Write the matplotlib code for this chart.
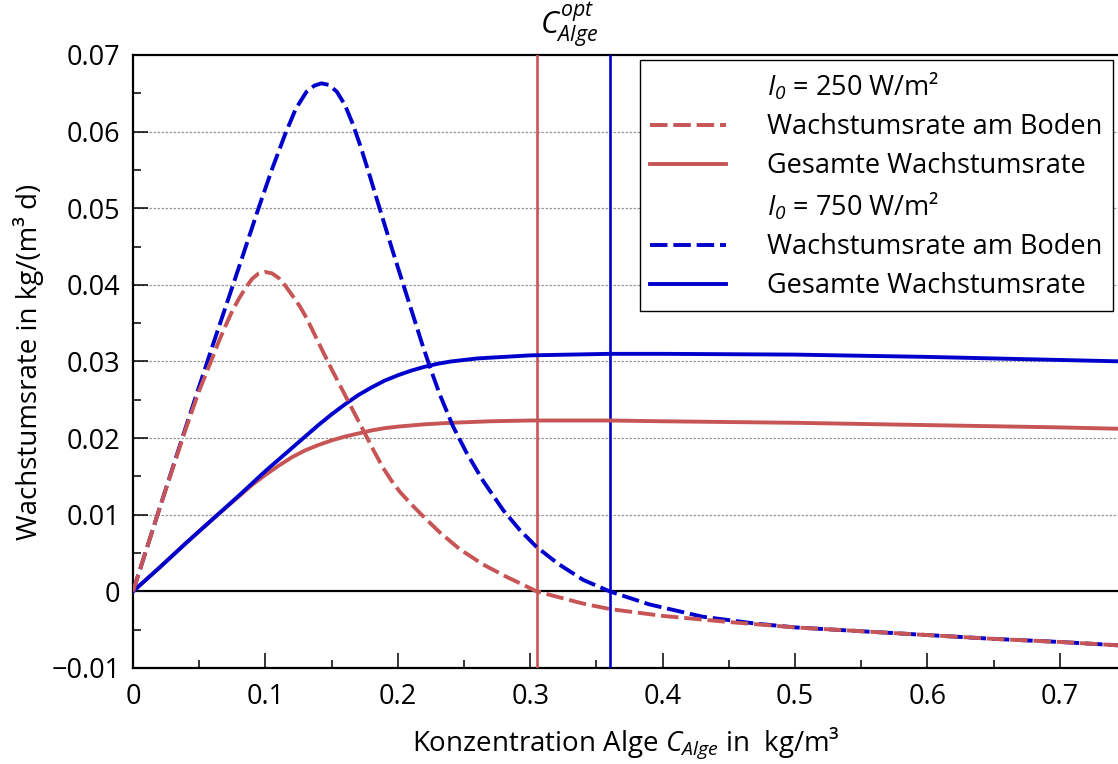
import matplotlib
matplotlib.use('Agg')
import matplotlib.pyplot as plt
from matplotlib.lines import Line2D
from matplotlib.ticker import MultipleLocator, FixedLocator
import matplotlib.transforms as mtransforms

plt.rcParams['font.family'] = ['Open Sans', 'DejaVu Sans']
plt.rcParams['mathtext.fontset'] = 'custom'
plt.rcParams['mathtext.rm'] = 'Open Sans:italic'
plt.rcParams['mathtext.it'] = 'Open Sans:italic'
plt.rcParams['mathtext.bf'] = 'Open Sans:bold'

# ---------------- data ----------------
x_red_boden = [0.0, 0.02, 0.04, 0.05, 0.06, 0.065, 0.07, 0.075, 0.08, 0.085, 0.09, 0.095,
               0.0995, 0.105, 0.11, 0.115, 0.12, 0.126, 0.13, 0.135, 0.14, 0.146, 0.15,
               0.156, 0.165, 0.174, 0.182, 0.189, 0.195, 0.2015, 0.21, 0.218, 0.2317,
               0.2468, 0.2645, 0.2821, 0.293, 0.3048, 0.3224, 0.34, 0.36, 0.40, 0.45,
               0.50, 0.55, 0.60, 0.65, 0.70, 0.75]
y_red_boden = [0.0, 0.0108, 0.0213, 0.0262, 0.0305, 0.0327, 0.0347, 0.0366, 0.0382,
               0.0396, 0.0408, 0.0415, 0.0417, 0.0415, 0.0409, 0.0399, 0.0387, 0.0372,
               0.0360, 0.0343, 0.0325, 0.0304, 0.0290, 0.0270, 0.0240, 0.0210, 0.0183,
               0.0161, 0.0145, 0.0130, 0.0114, 0.0100, 0.0077, 0.0055, 0.0035, 0.0019,
               0.0010, 0.0, -0.0008, -0.0016, -0.0023, -0.0032, -0.0040, -0.0047,
               -0.0052, -0.0057, -0.0062, -0.0066, -0.0071]

x_blue_boden = [0.0, 0.02, 0.04, 0.06, 0.08, 0.095, 0.105, 0.115, 0.123, 0.131, 0.137,
                0.1423, 0.148, 0.154, 0.160, 0.166, 0.172, 0.178, 0.185, 0.196, 0.2066,
                0.218, 0.2242, 0.2317, 0.2418, 0.2519, 0.2645, 0.2796, 0.2922, 0.3048,
                0.3211, 0.34, 0.36, 0.39, 0.43, 0.47, 0.50, 0.55, 0.60, 0.65, 0.70, 0.75]
y_blue_boden = [0.0, 0.0108, 0.0215, 0.0320, 0.0423, 0.0501, 0.0551, 0.0597, 0.0630,
                0.0652, 0.0660, 0.0663, 0.0661, 0.0652, 0.0635, 0.0610, 0.0580, 0.0547,
                0.0507, 0.0445, 0.0387, 0.0325, 0.0293, 0.0257, 0.0215, 0.0181, 0.0144,
                0.0106, 0.0080, 0.0058, 0.0036, 0.0015, 0.0, -0.0017, -0.0033, -0.0042,
                -0.0047, -0.0052, -0.0057, -0.0062, -0.0066, -0.0071]

x_red_gesamt = [0.0, 0.02, 0.04, 0.06, 0.07, 0.08, 0.09, 0.10, 0.11, 0.12, 0.13, 0.14,
                0.15, 0.16, 0.17, 0.18, 0.19, 0.20, 0.22, 0.24, 0.27, 0.30, 0.36, 0.40,
                0.50, 0.60, 0.70, 0.75]
y_red_gesamt = [0.0, 0.0031, 0.0063, 0.0094, 0.0109, 0.0124, 0.0139, 0.0152, 0.0164,
                0.0175, 0.0184, 0.0191, 0.0197, 0.0202, 0.0206, 0.0210, 0.0213, 0.0215,
                0.0218, 0.0220, 0.0222, 0.0223, 0.0223, 0.0222, 0.0220, 0.0217, 0.0214,
                0.0212]

x_blue_gesamt = [0.0, 0.02, 0.04, 0.06, 0.08, 0.09, 0.10, 0.11, 0.12, 0.13, 0.14, 0.15,
                 0.16, 0.17, 0.18, 0.19, 0.20, 0.21, 0.22, 0.23, 0.24, 0.25, 0.26, 0.28,
                 0.30, 0.33, 0.36, 0.40, 0.50, 0.60, 0.70, 0.75]
y_blue_gesamt = [0.0, 0.0031, 0.0063, 0.0094, 0.0125, 0.0141, 0.0157, 0.0172, 0.0187,
                 0.0202, 0.0217, 0.0231, 0.0244, 0.0256, 0.0266, 0.0275, 0.0282, 0.0288,
                 0.0293, 0.0297, 0.0300, 0.0302, 0.0304, 0.0306, 0.0308, 0.0309, 0.0310,
                 0.0310, 0.0309, 0.0306, 0.0302, 0.0300]

c_opt_red = 0.305
c_opt_blue = 0.36

x_ticks = [0, 0.1, 0.2, 0.3, 0.4, 0.5, 0.6, 0.7]
x_ticklabels = ['0', '0.1', '0.2', '0.3', '0.4', '0.5', '0.6', '0.7']
y_ticks = [-0.01, 0, 0.01, 0.02, 0.03, 0.04, 0.05, 0.06, 0.07]
y_ticklabels = ['\u22120.01', '0', '0.01', '0.02', '0.03', '0.04', '0.05', '0.06', '0.07']

legend_labels = ['$I_0$ = 250 W/m\u00b2', 'Wachstumsrate am Boden',
                 'Gesamte Wachstumsrate', '$I_0$ = 750 W/m\u00b2',
                 'Wachstumsrate am Boden', 'Gesamte Wachstumsrate']

# ---------------- styling ----------------
RED = '#C85555'
BLUE = '#0000CD'
LW = 2.8
DASH = (4.5, 1.5)
FS = 19.5
FS_LAB = 20

W, H = 1118, 764
fig = plt.figure(figsize=(W / 100, H / 100), dpi=100)
ax = fig.add_axes([133 / W, (H - 668) / H, (W - 133) / W, (668 - 55) / H])

ax.set_xlim(0, 0.75 * (W - 133) / (1126 - 133))
ax.set_ylim(-0.01, 0.07)

# grid
for yv in y_ticks:
    if 0 < yv < 0.07:
        ax.axhline(yv, color='#999999', lw=0.9, ls=(0, (2, 1.2)), zorder=1)
ax.axhline(0, color='black', lw=1.6, zorder=2)

ax.axvline(c_opt_red, color=RED, lw=1.9, zorder=3)
ax.axvline(c_opt_blue, color=BLUE, lw=1.9, zorder=3)

ax.plot(x_red_gesamt, y_red_gesamt, color=RED, lw=LW, zorder=4, solid_joinstyle='round')
ax.plot(x_blue_gesamt, y_blue_gesamt, color=BLUE, lw=LW, zorder=4, solid_joinstyle='round')
ax.plot(x_blue_boden, y_blue_boden, color=BLUE, lw=LW, dashes=DASH, zorder=5)
ax.plot(x_red_boden, y_red_boden, color=RED, lw=LW, dashes=DASH, zorder=6)

# ticks
ax.xaxis.set_major_locator(FixedLocator(x_ticks))
ax.set_xticklabels(x_ticklabels)
ax.xaxis.set_minor_locator(MultipleLocator(0.05))
ax.yaxis.set_major_locator(FixedLocator(y_ticks))
ax.set_yticklabels(y_ticklabels)
ax.yaxis.set_minor_locator(MultipleLocator(0.005))
ax.tick_params(which='both', direction='in', top=False, right=False, width=1.1,
               labelsize=FS, color='black')
ax.tick_params(which='major', length=11)
ax.tick_params(axis='x', which='major', pad=11)
ax.tick_params(axis='y', which='major', pad=9)
ax.tick_params(which='minor', length=6)

for s in ['left', 'bottom', 'top']:
    ax.spines[s].set_linewidth(1.6)
ax.spines['right'].set_visible(False)

ax.set_xlabel('Konzentration Alge $C_{Alge}$ in  kg/m\u00b3', fontsize=FS_LAB, labelpad=10)
ax.set_ylabel('Wachstumsrate in kg/(m\u00b3 d)', fontsize=FS_LAB, labelpad=5)

trans = mtransforms.blended_transform_factory(ax.transData, ax.transAxes)
ax.text((c_opt_red + c_opt_blue) / 2 - 0.003, 1.01, '$C_{Alge}^{opt}$', transform=trans,
        ha='center', va='bottom', fontsize=22)

handles = [Line2D([], [], ls='none'),
           Line2D([], [], color=RED, lw=LW, dashes=DASH),
           Line2D([], [], color=RED, lw=LW),
           Line2D([], [], ls='none'),
           Line2D([], [], color=BLUE, lw=LW, dashes=DASH),
           Line2D([], [], color=BLUE, lw=LW)]
leg = ax.legend(handles, legend_labels, loc='upper right',
                bbox_to_anchor=(1113 / W, 1 - 60 / H), bbox_transform=fig.transFigure,
                fontsize=FS, frameon=True, fancybox=False, framealpha=1,
                edgecolor='black', handlelength=2.8, handletextpad=1.5,
                labelspacing=0.4, borderpad=0.4, borderaxespad=0)
leg.get_frame().set_linewidth(1.0)

fig.savefig('out.png', dpi=100)
